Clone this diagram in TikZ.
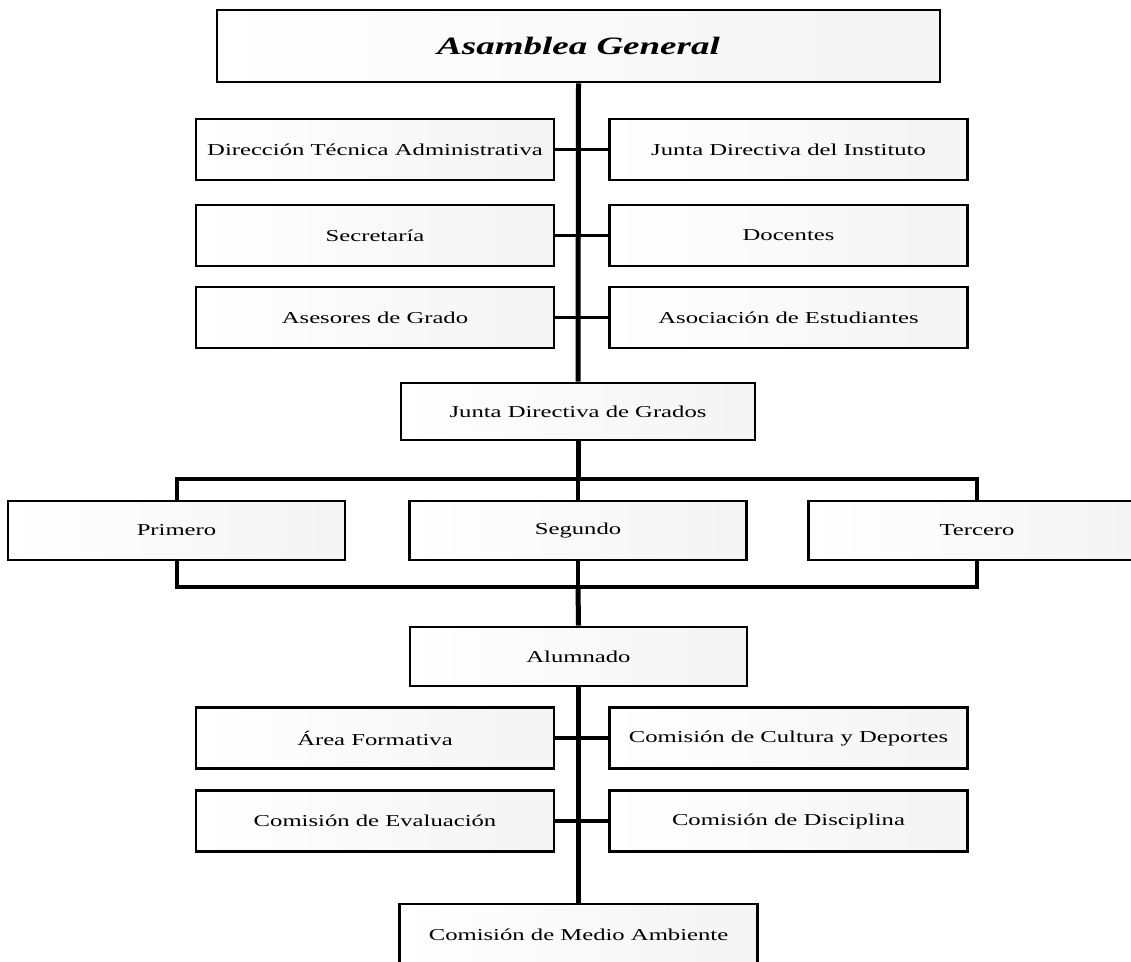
\documentclass[tikz,border=0pt]{standalone}
\usepackage{fontspec}
\setmainfont{Liberation Serif}[FakeStretch=1.48]
\begin{document}
\begin{tikzpicture}[
        x=0.75pt, y=-0.75pt,
        unit/.style={rectangle, draw, line width=2pt, left color=white, right color=gray!9, minimum width=268.5pt, minimum height=45.75pt, inner sep=0pt, font=\fontsize{12.5}{15}\selectfont},
        grade/.style={unit, minimum width=252.75pt, minimum height=44.25pt},
        title/.style={unit, minimum width=542.25pt, minimum height=54pt, font=\fontsize{18.75}{22}\selectfont\bfseries\itshape},
        trunk/.style={line width=3.75pt},
        branch/.style={line width=2.6pt},
        bus/.style={line width=3pt}
    ]
        \clip (0,0) rectangle (1131,962);

        % Top of the chart
        \node[title] (asamblea) at (578.5,46) {Asamblea General};

        % Upper pairs
        \node[unit] (direccion) at (375,149.5) {Dirección Técnica Administrativa};
        \node[unit] (junta) at (788.5,149.5) {Junta Directiva del Instituto};
        \node[unit] (secretaria) at (375,235.5) {Secretaría};
        \node[unit] (docentes) at (788.5,235.5) {Docentes};
        \node[unit] (asesores) at (375,317.5) {Asesores de Grado};
        \node[unit] (asociacion) at (788.5,317.5) {Asociación de Estudiantes};

        \node[unit, minimum width=265.5pt, minimum height=42.75pt] (grados) at (578,411.5) {Junta Directiva de Grados};

        % Grades
        \node[grade] (primero) at (176.5,530.5) {Primero};
        \node[grade] (segundo) at (578,530.5) {Segundo};
        \node[grade] (tercero) at (977,530.5) {Tercero};
        \coordinate (bustop) at (578,479);
        \coordinate (busbottom) at (578,587);

        \node[grade] (alumnado) at (578.5,656.5) {Alumnado};

        % Lower pairs
        \node[unit] (area) at (375,738) {Área Formativa};
        \node[unit] (cultura) at (788.5,738) {Comisión de Cultura y Deportes};
        \node[unit] (evaluacion) at (375,821) {Comisión de Evaluación};
        \node[unit] (disciplina) at (788.5,821) {Comisión de Disciplina};
        \node[unit] (ambiente) at (578.5,934.5) {Comisión de Medio Ambiente};

        % Main line
        \draw[trunk] (asamblea.south) -- (grados.north);
        \draw[trunk] (grados.south) -- (bustop);
        \draw[trunk] (busbottom) -- (alumnado.north);
        \draw[trunk] (alumnado.south) -- (ambiente.north);

        % Bus round the grades
        \draw[bus] (primero.north) |- (bustop) -| (tercero.north);
        \draw[bus] (bustop) -- (segundo.north);
        \draw[bus] (primero.south) |- (busbottom) -| (tercero.south);
        \draw[bus] (segundo.south) -- (busbottom);

        % Side links
        \foreach \l/\r in {direccion/junta, secretaria/docentes, asesores/asociacion, area/cultura, evaluacion/disciplina} {
            \draw[branch] (\l.east) -- (\r.west);
        }

    \end{tikzpicture}
\end{document}
